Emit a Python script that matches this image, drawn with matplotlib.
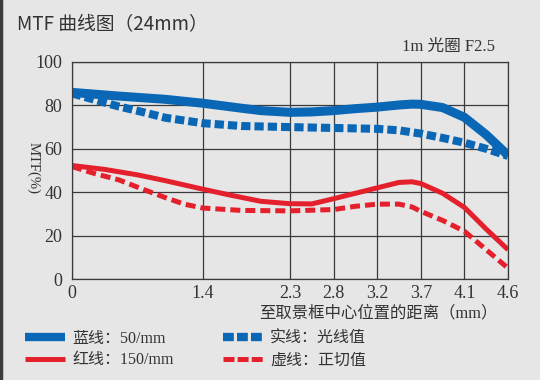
import numpy as np
import matplotlib
matplotlib.use("Agg")
import matplotlib.pyplot as plt
from matplotlib.lines import Line2D

# distance from frame centre (mm) and MTF values (%)
x_blue_solid = [0, 0.5, 1.0, 1.4, 1.8, 2.0, 2.3, 2.55, 2.8, 3.0, 3.2, 3.45, 3.6, 3.7, 3.9, 4.1, 4.35, 4.6]
y_blue_solid = [86, 84.3, 82.8, 81, 78.7, 77.6, 76.8, 77, 77.6, 78.5, 79.2, 80.2, 80.6, 80.5, 79, 74.5, 66.5, 57]

x_blue_dash = [0, 0.25, 0.5, 0.75, 1.0, 1.4, 1.8, 2.3, 2.8, 3.2, 3.45, 3.7, 3.9, 4.1, 4.35, 4.6]
y_blue_dash = [85.5, 82.5, 79.5, 77, 74.3, 71.8, 70.5, 70, 69.6, 69.2, 68.5, 67, 65, 62.8, 60, 56.7]

x_red_solid = [0, 0.35, 0.7, 1.0, 1.4, 1.7, 2.0, 2.3, 2.55, 2.8, 3.0, 3.2, 3.45, 3.6, 3.7, 3.9, 4.1, 4.35, 4.6]
y_red_solid = [52.3, 50.5, 48, 45.3, 41.4, 38.5, 35.8, 34.7, 34.6, 37, 39.5, 42, 44.5, 44.8, 44, 39.5, 33, 23, 13.5]

x_red_dash = [0, 0.25, 0.5, 0.75, 1.0, 1.2, 1.4, 1.8, 2.3, 2.8, 3.0, 3.2, 3.45, 3.6, 3.7, 3.9, 4.1, 4.35, 4.6]
y_red_dash = [51.8, 48.5, 45.7, 41.5, 37.5, 34.5, 32.7, 31.6, 31.4, 32, 33.5, 34.5, 34.5, 33.2, 31.2, 27, 22, 13.5, 5]

x_ticks = [0, 1.4, 2.3, 2.8, 3.2, 3.7, 4.1, 4.6]
x_tick_labels = ["0", "1.4", "2.3", "2.8", "3.2", "3.7", "4.1", "4.6"]
y_ticks = [0, 20, 40, 60, 80, 100]

labels = ["蓝线：50/mm", "红线：150/mm", "实线：光线值", "虚线：正切值"]

BLUE = "#0a67b5"
RED = "#e3202b"
BG = "#e6e6e7"
GRID = "#3a3a3a"
SERIF = ["Liberation Serif", "Noto Sans CJK SC"]

fig = plt.figure(figsize=(5.4, 3.8), dpi=100, facecolor=BG)
ax = fig.add_axes([72 / 540, 1 - 279 / 380, 436 / 540, 217 / 380], facecolor=BG)

# the chart spaces its distance ticks unevenly, so map them onto even slots
slots = [0, 3, 5, 6, 7, 8, 9, 10]
fwd = lambda v: np.interp(v, x_ticks, slots)
inv = lambda p: np.interp(p, slots, x_ticks)
ax.set_xscale("function", functions=(fwd, inv))

ax.plot(x_blue_solid, y_blue_solid, color=BLUE, lw=6.5, solid_capstyle="butt")
ax.plot(x_blue_dash, y_blue_dash, color=BLUE, lw=5.8,
        linestyle=(0, (1.15, 0.5)), dash_capstyle="butt")
ax.plot(x_red_solid, y_red_solid, color=RED, lw=3.6, solid_capstyle="butt")
ax.plot(x_red_dash, y_red_dash, color=RED, lw=3.6,
        linestyle=(0, (2.0, 1.0)), dash_capstyle="butt")

ax.set_xlim(0, 4.6)
ax.set_ylim(0, 100)
ax.set_xticks(x_ticks)
ax.set_xticklabels(x_tick_labels)
ax.set_yticks(y_ticks)
ax.minorticks_off()
ax.grid(True, color=GRID, lw=0.9)
ax.set_axisbelow(True)
for s in ax.spines.values():
    s.set_color(GRID)
    s.set_linewidth(0.9)
ax.tick_params(length=0, labelsize=13, colors="#333333")
ax.tick_params(axis="x", pad=4)
ax.tick_params(axis="y", pad=7)
for t in ax.get_xticklabels() + ax.get_yticklabels():
    t.set_family(SERIF)

fig.text(17 / 540, 1 - 25 / 380, "MTF 曲线图（24mm）", ha="left", va="center",
         fontsize=13.5, family=["Noto Sans CJK SC"], color="#333333")
fig.text(495 / 540, 1 - 47 / 380, "1m 光圈 F2.5", ha="right", va="center",
         fontsize=12, family=SERIF, color="#333333")
fig.text(33 / 540, 1 - 168 / 380, "MTF(%)", ha="center", va="center", rotation=270,
         fontsize=10.5, family=SERIF, color="#333333")
fig.text(497 / 540, 1 - 313 / 380, "至取景框中心位置的距离（mm）", ha="right", va="center",
         fontsize=11.8, family=SERIF, color="#333333")

handles = [
    Line2D([], [], color=BLUE, lw=6, solid_capstyle="butt"),
    Line2D([], [], color=RED, lw=3.6, solid_capstyle="butt"),
    Line2D([], [], color=BLUE, lw=6, linestyle=(0, (1.3, 0.38)), dash_capstyle="butt"),
    Line2D([], [], color=RED, lw=3.6, linestyle=(0, (2.2, 0.62)), dash_capstyle="butt"),
]
fig.legend(handles, labels, ncol=2, loc="upper left",
           bbox_to_anchor=(25 / 540, 1 - 331 / 380), frameon=False,
           prop={"family": SERIF, "size": 11.5}, labelcolor="#333333",
           handlelength=2.5, handletextpad=0.45, columnspacing=3.1,
           labelspacing=0.33, borderpad=0, borderaxespad=0)

# dark edge on the left of the picture
fig.add_artist(Line2D([0.002, 0.002], [0, 1], color="#3c3c3c", lw=2.5,
                      transform=fig.transFigure))

fig.savefig("out.png", dpi=100, facecolor=BG)
